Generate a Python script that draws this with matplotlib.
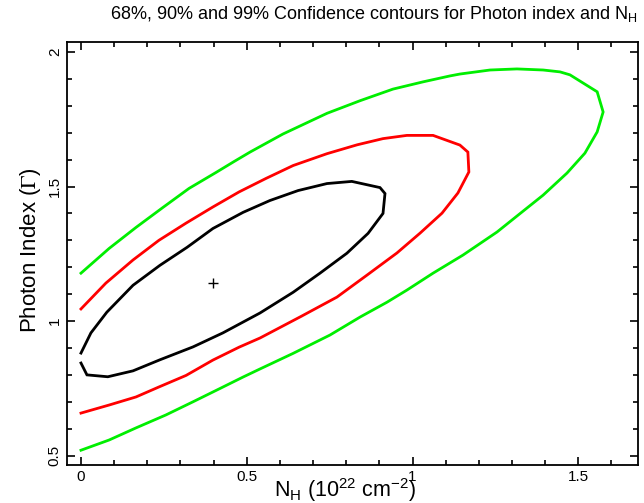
import matplotlib
matplotlib.use("Agg")
import matplotlib.pyplot as plt
from matplotlib.ticker import MultipleLocator

plt.rcParams['font.family'] = ['Liberation Sans', 'DejaVu Sans']
plt.rcParams['mathtext.fontset'] = 'stix'

# 68% contour (black)
nh_68 = [0.0, 0.030, 0.078, 0.157, 0.238, 0.320, 0.398, 0.489, 0.570, 0.655, 0.742, 0.817,
         0.902, 0.917, 0.911, 0.866, 0.802, 0.721, 0.640, 0.540, 0.428, 0.338, 0.238, 0.157,
         0.081, 0.018, 0.0]
gam_68 = [0.881, 0.956, 1.033, 1.133, 1.207, 1.274, 1.344, 1.404, 1.448, 1.485, 1.511, 1.519,
          1.496, 1.474, 1.400, 1.326, 1.252, 1.178, 1.107, 1.030, 0.956, 0.904, 0.856, 0.815,
          0.793, 0.800, 0.844]

# 90% contour (red)
nh_90 = [0.0, 0.075, 0.157, 0.235, 0.317, 0.398, 0.477, 0.558, 0.640, 0.742, 0.833, 0.911,
         0.983, 1.062, 1.143, 1.167, 1.170, 1.137, 1.089, 1.023, 0.953, 0.863, 0.772, 0.665,
         0.540, 0.477, 0.398, 0.317, 0.235, 0.166, 0.085, 0.0]
gam_90 = [1.045, 1.141, 1.227, 1.300, 1.364, 1.424, 1.480, 1.530, 1.578, 1.622, 1.655, 1.678,
          1.690, 1.690, 1.654, 1.628, 1.554, 1.476, 1.401, 1.327, 1.253, 1.171, 1.089, 1.018,
          0.937, 0.903, 0.855, 0.798, 0.755, 0.718, 0.688, 0.658]

# 99% contour (green)
nh_99 = [0.0, 0.085, 0.166, 0.247, 0.326, 0.407, 0.462, 0.510, 0.609, 0.742, 0.842, 0.941,
         1.032, 1.113, 1.143, 1.234, 1.315, 1.394, 1.445, 1.475, 1.557, 1.575, 1.557, 1.520,
         1.466, 1.394, 1.330, 1.255, 1.152, 1.062, 0.983, 0.923, 0.842, 0.751, 0.640, 0.540,
         0.489, 0.417, 0.338, 0.256, 0.166, 0.085, 0.0]
gam_99 = [1.178, 1.270, 1.348, 1.422, 1.493, 1.552, 1.593, 1.628, 1.695, 1.772, 1.819, 1.862,
          1.889, 1.911, 1.918, 1.933, 1.937, 1.933, 1.926, 1.915, 1.852, 1.777, 1.703, 1.624,
          1.550, 1.468, 1.405, 1.331, 1.245, 1.178, 1.115, 1.070, 1.015, 0.948, 0.880, 0.822,
          0.792, 0.748, 0.700, 0.651, 0.603, 0.558, 0.520]

best_nh = [0.397]
best_gam = [1.142]

fig = plt.figure(figsize=(6.44, 5.03), dpi=100)
ax = fig.add_axes([0.1036, 0.0755, 0.887, 0.8415])

ax.plot(nh_99, gam_99, color='#00ee00', lw=2.0, solid_joinstyle='miter')
ax.plot(nh_90, gam_90, color='#ff0000', lw=2.0, solid_joinstyle='miter')
ax.plot(nh_68, gam_68, color='black', lw=2.0, solid_joinstyle='miter')
ax.plot(best_nh, best_gam, marker='+', color='black', ms=7, mew=1.0, ls='none')

ax.set_xlim(-0.043, 1.680)
ax.set_ylim(0.465, 2.038)

ax.xaxis.set_major_locator(MultipleLocator(0.5))
ax.xaxis.set_minor_locator(MultipleLocator(0.1))
ax.yaxis.set_major_locator(MultipleLocator(0.5))
ax.yaxis.set_minor_locator(MultipleLocator(0.1))
ax.xaxis.set_major_formatter(plt.FuncFormatter(lambda v, p: f"{v:g}"))
ax.yaxis.set_major_formatter(plt.FuncFormatter(lambda v, p: f"{v:g}"))

ax.tick_params(which='both', direction='in', top=True, right=True, width=1.2, labelsize=11)
ax.tick_params(which='major', length=6)
ax.tick_params(which='minor', length=3.5)
for lab in ax.get_yticklabels():
    lab.set_rotation(90)
    lab.set_va('center')
for s in ax.spines.values():
    s.set_linewidth(1.3)

ax.set_xlabel(r'$\mathregular{N_H}$ ($\mathregular{10^{22}}$ cm$\mathregular{^{-2}}$)', fontsize=15.5)
ax.xaxis.set_label_coords(0.487, -0.027)
ax.set_ylabel(r'Photon Index ($\Gamma$)', fontsize=16)
ax.yaxis.set_label_coords(-0.0415, 0.508)
fig.text(374 / 644, 1 - 14 / 503,
         r'68%, 90% and 99% Confidence contours for Photon index and $\mathregular{N_H}$',
         fontsize=13, ha='center', va='center')

fig.savefig('out.png', dpi=100)
